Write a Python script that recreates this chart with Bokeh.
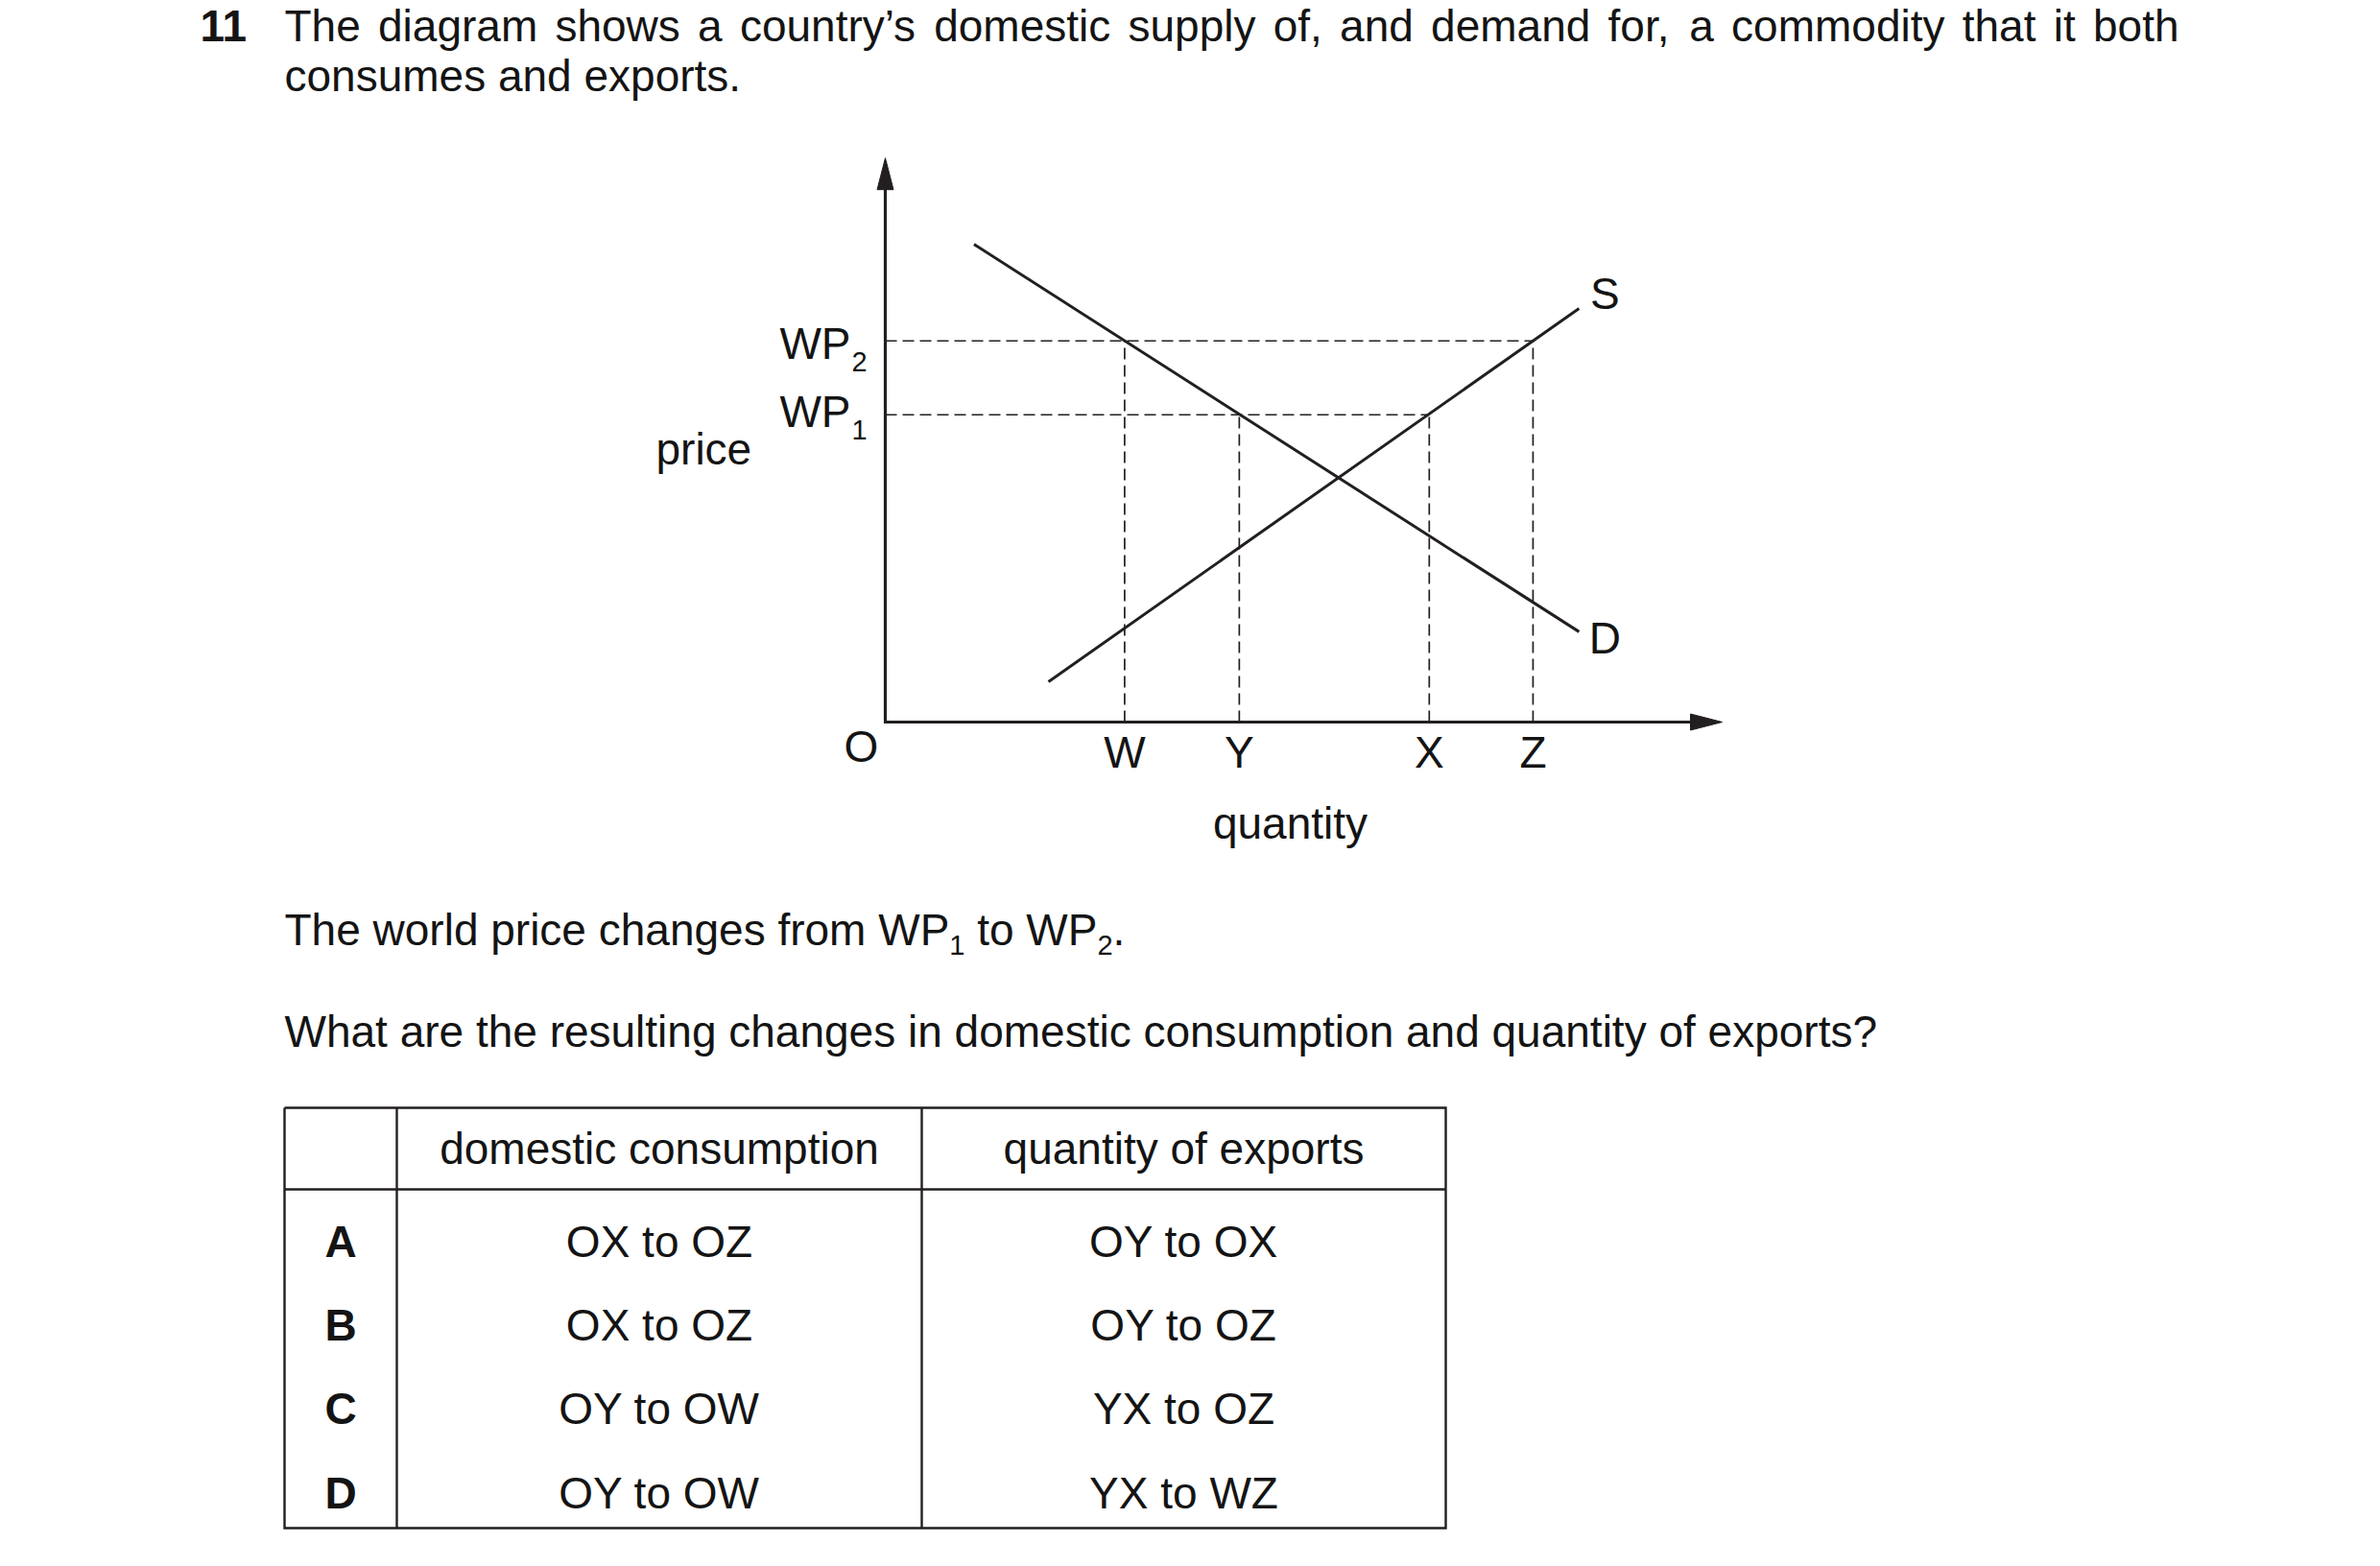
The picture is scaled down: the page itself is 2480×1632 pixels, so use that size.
from bokeh.plotting import figure
from bokeh.models import Range1d, ColumnDataSource
from bokeh.core.properties import value
from bokeh.embed import file_html
from bokeh.resources import INLINE

# ---------------- data ----------------
question_number = "11"
stem_line1_words = ["The", "diagram", "shows", "a", "country\u2019s", "domestic", "supply",
                    "of,", "and", "demand", "for,", "a", "commodity", "that", "it", "both"]
stem_line2 = "consumes and exports."
change_parts = ["The world price changes from WP", "1", " to WP", "2", "."]
change_is_sub = [False, True, False, True, False]
question_text = "What are the resulting changes in domestic consumption and quantity of exports?"

quantity_labels = ["W", "Y", "X", "Z"]
quantity_values = [2.86, 4.23, 6.50, 7.74]
quantity_price_index = [1, 0, 0, 1]          # world price each quantity is read at
world_price_main = ["WP", "WP"]
world_price_sub = ["1", "2"]
world_price_values = [5.41, 6.71]

demand_q = [1.06, 8.29]
demand_p = [8.41, 1.59]
supply_q = [1.95, 8.29]
supply_p = [0.71, 7.28]
curve_labels = ["S", "D"]
axis_q_max = 10.0
axis_p_max = 9.93

table_header = ["", "domestic consumption", "quantity of exports"]
option_letters = ["A", "B", "C", "D"]
consumption_change = ["OX to OZ", "OX to OZ", "OY to OW", "OY to OW"]
exports_change = ["OY to OX", "OY to OZ", "YX to OZ", "YX to WZ"]

# ---------------- layout / style ----------------
FONT = "Liberation Sans"
FS = 46
SUB_FS = 29
INK = "#141414"
LINE = "#231f20"

FRAME_W, FRAME_H = 2464, 1616
OX, OY = 922.0, 752.0       # diagram origin on the page
Q_PX, P_PX = 87.2, 59.2     # pixels per diagram unit

ARIAL = {
    'a': 556, 'b': 556, 'c': 500, 'd': 556, 'e': 556, 'f': 278, 'g': 556, 'h': 556,
    'i': 222, 'j': 222, 'k': 500, 'l': 222, 'm': 833, 'n': 556, 'o': 556, 'p': 556,
    'q': 556, 'r': 333, 's': 500, 't': 278, 'u': 556, 'v': 500, 'w': 722, 'x': 500,
    'y': 500, 'z': 500, 'A': 667, 'B': 667, 'C': 722, 'D': 722, 'O': 778, 'P': 667,
    'S': 667, 'T': 611, 'W': 944, 'X': 667, 'Y': 667, 'Z': 611, ' ': 278, ',': 278,
    '.': 278, '?': 556, '\u2019': 222, '1': 556, '2': 556,
}


def tw(s, size):
    return sum(ARIAL.get(c, 556) for c in s) / 1000.0 * size


def shift(size):
    # correction between requested and drawn alphabetic baseline
    return 0.39 * size


p = figure(width=FRAME_W, height=FRAME_H,
           x_range=Range1d(0, FRAME_W), y_range=Range1d(FRAME_H, 0),
           output_backend="svg", toolbar_location=None, min_border=0,
           x_axis_type=None, y_axis_type=None)
p.grid.visible = False
p.outline_line_color = None
p.background_fill_color = "white"
p.border_fill_color = "white"

# diagram ranges: quantity (q) and price (p) mapped onto the page
p.extra_x_ranges = {"q": Range1d((0 - OX) / Q_PX, (FRAME_W - OX) / Q_PX)}
p.extra_y_ranges = {"p": Range1d((OY - FRAME_H) / P_PX, (OY - 0) / P_PX)}
D = dict(x_range_name="q", y_range_name="p")


def txt(x, y, t, size=FS, align="left", bold=False):
    p.text(x=x, y=[v - shift(size) for v in y], text=t, text_font=value(FONT),
           text_font_size=f"{size}px", text_align=align, text_baseline="alphabetic",
           text_color=INK, text_font_style="bold" if bold else "normal")


# ---------------- question stem ----------------
L1_BASE, L2_BASE = 44, 96
LEFT, RIGHT = 296, 2270
txt([208], [L1_BASE], [question_number], bold=True)
widths = [tw(w, FS) for w in stem_line1_words]
gap = (RIGHT - LEFT - sum(widths)) / (len(stem_line1_words) - 1)
xs, cur = [], LEFT
for w in widths:
    xs.append(cur)
    cur += w + gap
txt(xs, [L1_BASE] * len(xs), stem_line1_words)
txt([LEFT], [L2_BASE], [stem_line2])

# ---------------- diagram ----------------
wp_of = [world_price_values[i] for i in quantity_price_index]
guide_xs = [[0, max(q for q, i in zip(quantity_values, quantity_price_index) if i == k)]
            for k in range(len(world_price_values))]
guide_ys = [[wp, wp] for wp in world_price_values]
guide_xs += [[q, q] for q in quantity_values]
guide_ys += [[0, wp] for wp in wp_of]
p.multi_line(xs=guide_xs, ys=guide_ys, line_color=LINE, line_width=1.7,
             line_dash="12 6", **D)

p.line(demand_q, demand_p, line_color=LINE, line_width=3, **D)
p.line(supply_q, supply_p, line_color=LINE, line_width=3, **D)

head_len, head_half = 33.0, 8.5
p.line([0, 0, axis_q_max - head_len / Q_PX + 0.05],
       [axis_p_max - head_len / P_PX + 0.05, 0, 0],
       line_color=LINE, line_width=3.2, line_join="miter", **D)
tip_x = OX + axis_q_max * Q_PX
tip_y = OY - axis_p_max * P_PX
p.patches(xs=[[OX - head_half, OX + head_half, OX],
              [tip_x - head_len, tip_x - head_len, tip_x]],
          ys=[[tip_y + head_len, tip_y + head_len, tip_y],
              [OY - head_half, OY + head_half, OY]],
          fill_color=LINE, line_color=LINE, line_width=1)

# quantity labels under the axis
p.text(x=quantity_values, y=[801 - shift(FS)] * 4, text=quantity_labels,
       text_font=value(FONT), text_font_size=f"{FS}px", text_align="center",
       text_baseline="alphabetic", text_color=INK, x_range_name="q")

# world price labels
wp_src = ColumnDataSource(dict(x=[OX - 36] * 2, y=world_price_values,
                               main=world_price_main, sub=world_price_sub,
                               off=[15 - shift(FS), 21 - shift(FS)],
                               suboff=[27 - shift(SUB_FS), 33 - shift(SUB_FS)]))
p.text(x="x", y="y", text="main", source=wp_src, text_font=value(FONT),
       text_font_size=f"{FS}px", text_align="right", text_baseline="alphabetic",
       text_color=INK, y_offset="off", y_range_name="p")
p.text(x="x", y="y", text="sub", source=wp_src, text_font=value(FONT),
       text_font_size=f"{SUB_FS}px", text_align="left", text_baseline="alphabetic",
       text_color=INK, x_offset=1, y_offset="suboff", y_range_name="p")

# curve labels S and D at the curve ends
cl_src = ColumnDataSource(dict(q=[supply_q[-1], demand_q[-1]], pr=[supply_p[-1], demand_p[-1]],
                               t=curve_labels, off=[2 - shift(FS), 25 - shift(FS)]))
p.text(x="q", y="pr", text="t", source=cl_src, text_font=value(FONT),
       text_font_size=f"{FS}px", text_align="center", text_baseline="alphabetic",
       text_color=INK, x_offset=27, y_offset="off", **D)

txt([683], [485], ["price"])
txt([897], [795], ["O"], align="center")
txt([1344], [875], ["quantity"], align="center")

# ---------------- question text ----------------
W_BASE, Q_BASE = 986, 1092
cur = LEFT
for part, is_sub in zip(change_parts, change_is_sub):
    size = SUB_FS if is_sub else FS
    lead = len(part) - len(part.lstrip(" "))
    txt([cur + tw(" " * lead, size)], [W_BASE + (10 if is_sub else 0)], [part.strip(" ")], size=size)
    cur += tw(part, size)
txt([LEFT], [Q_BASE], [question_text])

# ---------------- answer table ----------------
T_L, T_R, T_T, T_B = 296, 1506, 1154, 1592
HDR = 1239
COLS = [413, 960]
p.multi_line(xs=[[T_L, T_R, T_R, T_L, T_L], [T_L, T_R], [COLS[0], COLS[0]], [COLS[1], COLS[1]]],
             ys=[[T_T, T_T, T_B, T_B, T_T], [HDR, HDR], [T_T, T_B], [T_T, T_B]],
             line_color=LINE, line_width=2.4, line_join="miter")

col_centers = [(T_L + COLS[0]) / 2, (COLS[0] + COLS[1]) / 2, (COLS[1] + T_R) / 2]
row_base = [1311, 1398, 1485, 1573]
txt(col_centers[1:], [1214, 1214], table_header[1:], align="center")
txt([col_centers[0]] * 4, row_base, option_letters, align="center", bold=True)
txt([col_centers[1]] * 4, row_base, consumption_change, align="center")
txt([col_centers[2]] * 4, row_base, exports_change, align="center")

open("out.html", "w").write(file_html(p, INLINE))
